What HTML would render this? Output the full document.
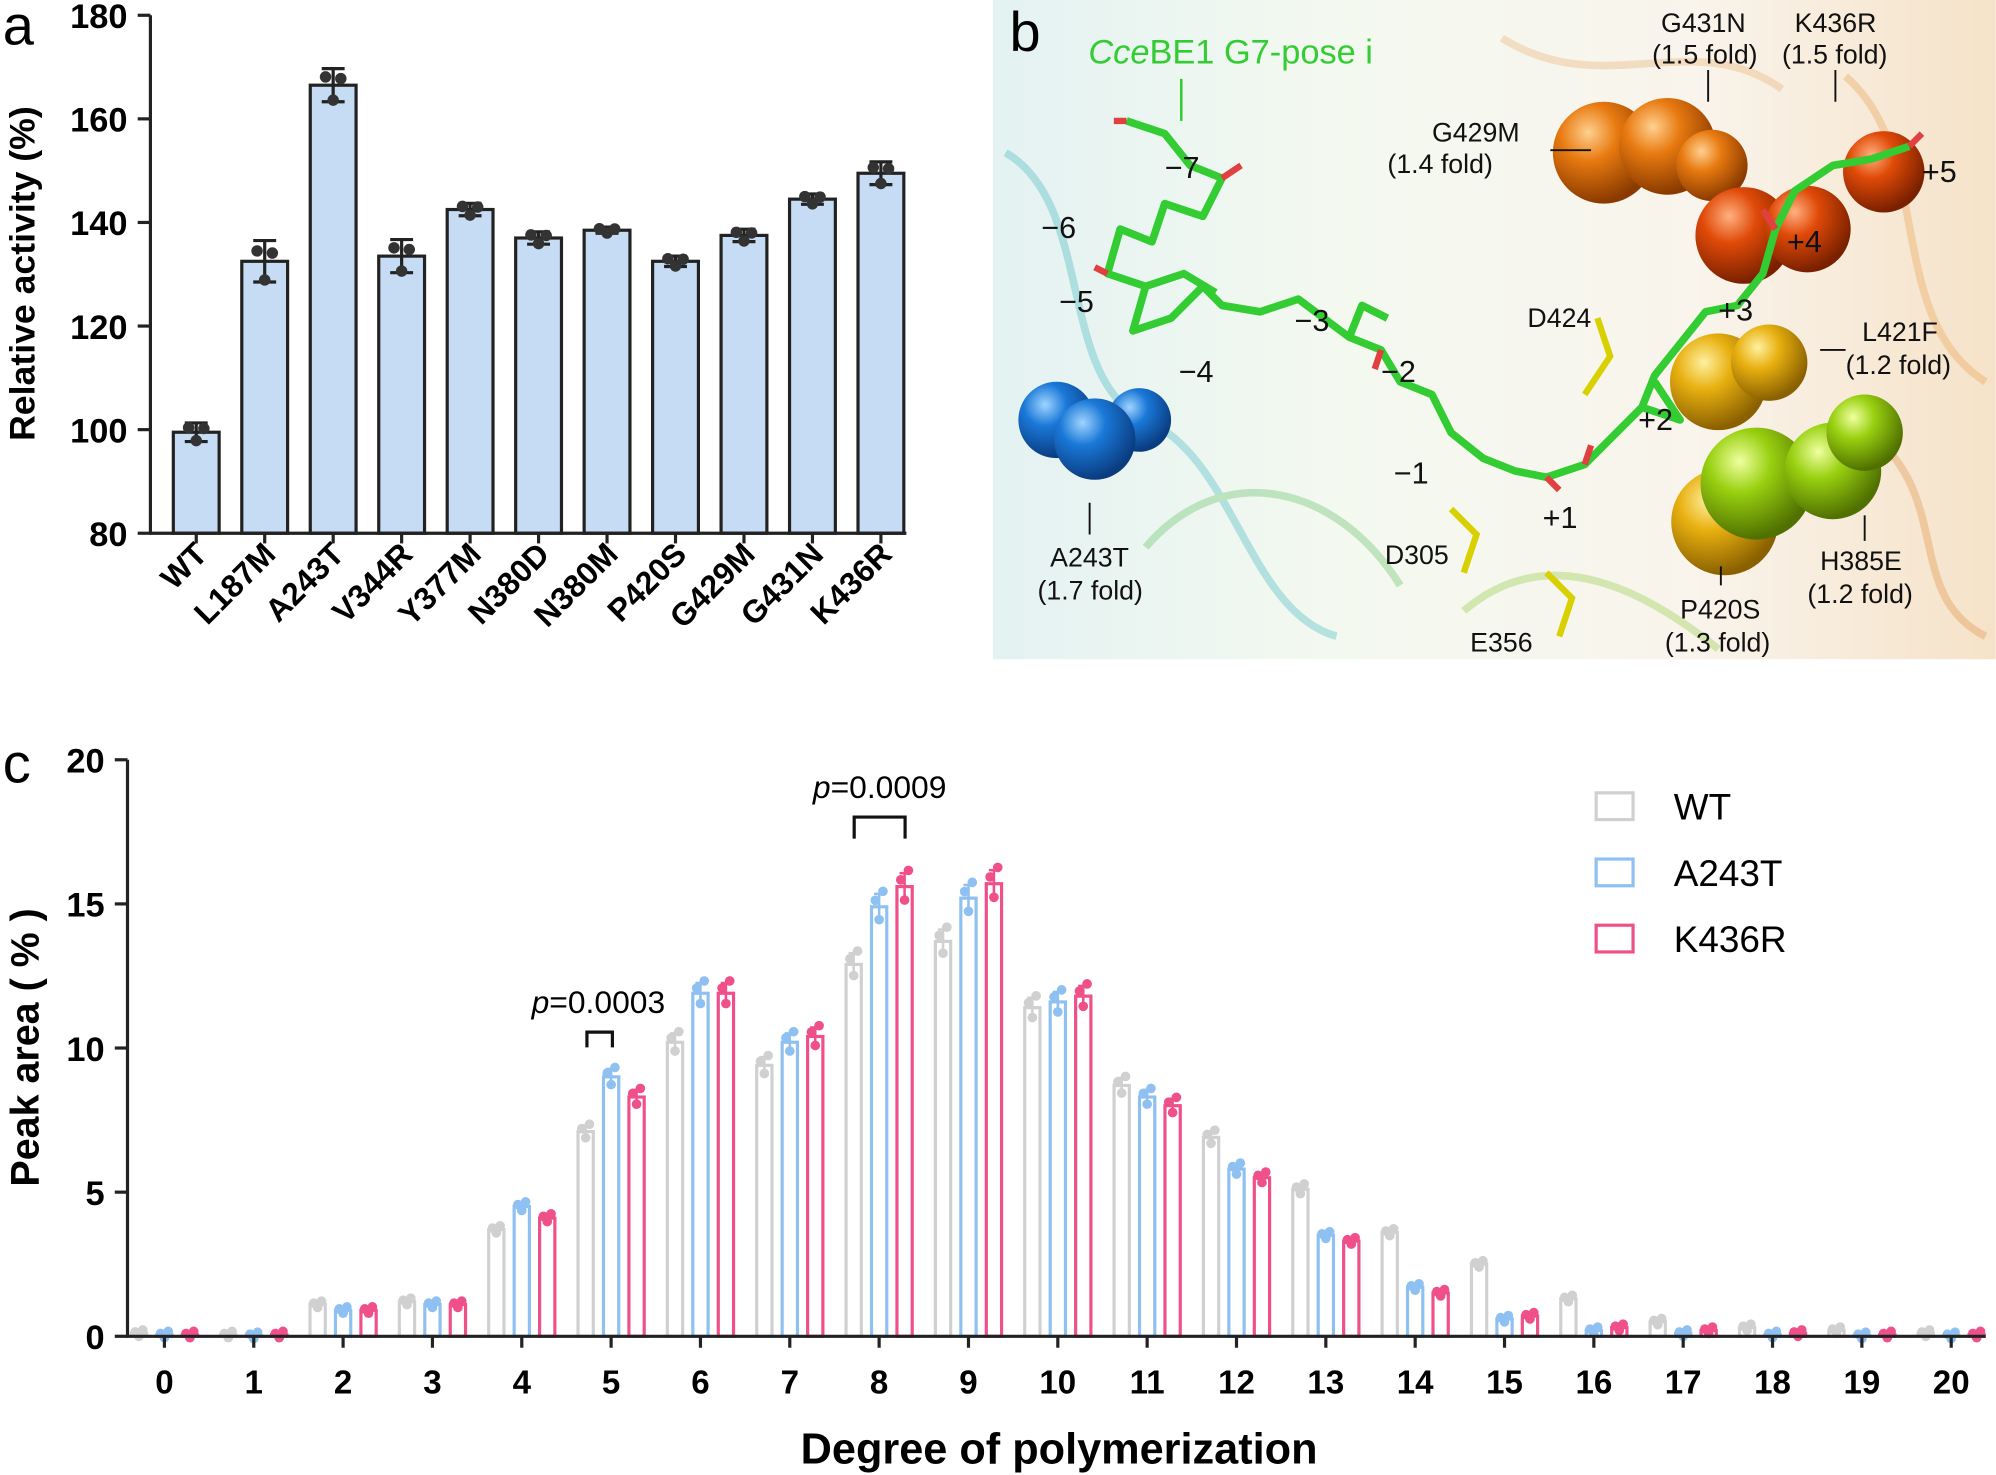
<!DOCTYPE html>
<html><head><meta charset="utf-8"><style>
html,body{margin:0;padding:0;background:#fff;}
svg{display:block;font-family:"Liberation Sans",Arial,sans-serif;}
</style></head><body>
<svg id="s" width="1996" height="1475" viewBox="0 0 1568 1159" xmlns="http://www.w3.org/2000/svg">
<defs>
<radialGradient id="bl" cx="35%" cy="30%" r="70%"><stop offset="0" stop-color="#9fd4ff"/><stop offset="0.4" stop-color="#1a78d8"/><stop offset="1" stop-color="#0a3c80"/></radialGradient>
<radialGradient id="or" cx="35%" cy="30%" r="70%"><stop offset="0" stop-color="#ffd090"/><stop offset="0.4" stop-color="#e87a10"/><stop offset="1" stop-color="#8a3a00"/></radialGradient>
<radialGradient id="ro" cx="35%" cy="30%" r="70%"><stop offset="0" stop-color="#ffb080"/><stop offset="0.4" stop-color="#e04a08"/><stop offset="1" stop-color="#7a2000"/></radialGradient>
<radialGradient id="ye" cx="35%" cy="30%" r="70%"><stop offset="0" stop-color="#fff0a0"/><stop offset="0.4" stop-color="#e8b010"/><stop offset="1" stop-color="#8a6000"/></radialGradient>
<radialGradient id="gr" cx="35%" cy="30%" r="70%"><stop offset="0" stop-color="#f0ffa0"/><stop offset="0.4" stop-color="#98d010"/><stop offset="1" stop-color="#507000"/></radialGradient>
<linearGradient id="bg" x1="0" x2="1" y1="0" y2="0"><stop offset="0" stop-color="#e4f2f2"/><stop offset="0.35" stop-color="#f4f9f0"/><stop offset="0.7" stop-color="#f9f4ec"/><stop offset="1" stop-color="#f6e2c8"/></linearGradient>
</defs>
<g id="g"></g>
<rect x="780" y="0" width="788" height="518" fill="url(#bg)"/>
<g fill="none" stroke-width="6" opacity="0.35">
<path d="M790 120 C860 160 830 300 900 330 S980 480 1050 500" stroke="#40b8c0"/>
<path d="M900 430 C960 360 1050 380 1100 460" stroke="#60c060"/>
<path d="M1150 480 C1220 420 1300 470 1350 510" stroke="#90c840"/>
<path d="M1450 60 C1520 120 1480 250 1560 300" stroke="#e8a050"/>
<path d="M1180 30 C1260 80 1330 20 1400 70" stroke="#e8b070"/>
<path d="M1480 350 C1530 400 1500 470 1560 500" stroke="#e09040"/>
</g>
<g>
<circle cx="830" cy="330" r="30" fill="url(#bl)"/><circle cx="895" cy="330" r="25" fill="url(#bl)"/><circle cx="860" cy="345" r="32" fill="url(#bl)"/>
<circle cx="1260" cy="120" r="40" fill="url(#or)"/><circle cx="1310" cy="115" r="38" fill="url(#or)"/><circle cx="1345" cy="130" r="28" fill="url(#or)"/>
<circle cx="1370" cy="185" r="38" fill="url(#ro)"/><circle cx="1420" cy="180" r="34" fill="url(#ro)"/><circle cx="1480" cy="135" r="32" fill="url(#ro)"/>
<circle cx="1350" cy="300" r="38" fill="url(#ye)"/><circle cx="1390" cy="285" r="30" fill="url(#ye)"/><circle cx="1355" cy="410" r="42" fill="url(#ye)"/>
<circle cx="1380" cy="380" r="44" fill="url(#gr)"/><circle cx="1440" cy="370" r="38" fill="url(#gr)"/><circle cx="1465" cy="340" r="30" fill="url(#gr)"/>
</g>
<g fill="none" stroke="#33cc33" stroke-width="6" stroke-linejoin="round">
<path d="M885 95 L915 105 L935 130 L960 140 L945 170 L915 160 L905 190 L880 180 L870 215 L900 225 L890 260 L920 250 L945 225 L960 240 L990 245 L1020 235 L1040 250 L1060 265 L1085 275 L1100 300 L1125 310 L1140 340 L1165 360 L1190 370 L1215 375 L1245 365 L1265 345 L1290 320 L1300 295 L1320 270 L1340 245 L1365 240 L1385 215 L1395 180 L1410 150 L1440 130 L1470 125 L1500 115"/>
<path d="M900 225 L930 215 L955 230 M1060 265 L1070 240 L1090 250 M1290 320 L1320 330 L1300 300"/>
</g>
<g fill="none" stroke="#e04040" stroke-width="5">
<path d="M875 95 L885 95 M960 140 L975 130 M870 215 L860 210 M1085 275 L1080 290 M1215 375 L1225 385 M1245 365 L1250 350 M1395 180 L1385 165 M1500 115 L1510 105"/>
</g>
<g stroke="#d8d000" stroke-width="5" fill="none"><path d="M1140 400 L1160 420 L1150 450 M1255 250 L1265 280 L1245 310 M1215 450 L1235 470 L1225 500"/></g>
<g font-size="21" fill="#111">
<text x="1125" y="111">G429M</text><text x="1090" y="136">(1.4 fold)</text>
<text x="1305" y="25">G431N</text><text x="1298" y="50">(1.5 fold)</text>
<text x="1410" y="25">K436R</text><text x="1400" y="50">(1.5 fold)</text>
<text x="1463" y="268">L421F</text><text x="1450" y="294">(1.2 fold)</text>
<text x="1430" y="448">H385E</text><text x="1420" y="474">(1.2 fold)</text>
<text x="1320" y="486">P420S</text><text x="1308" y="512">(1.3 fold)</text>
<text x="825" y="445">A243T</text><text x="815" y="471">(1.7 fold)</text>
<text x="1200" y="257">D424</text><text x="1088" y="443">D305</text><text x="1155" y="512">E356</text>
</g>
<g font-size="24" fill="#111">
<text x="915" y="140">−7</text><text x="818" y="187">−6</text><text x="832" y="245">−5</text><text x="926" y="300">−4</text>
<text x="1017" y="260">−3</text><text x="1085" y="300">−2</text><text x="1095" y="380">−1</text><text x="1212" y="415">+1</text>
<text x="1287" y="338">+2</text><text x="1350" y="252">+3</text><text x="1404" y="198">+4</text><text x="1510" y="143">+5</text>
</g>
<text x="855" y="50" font-size="27" fill="#33cc33"><tspan font-style="italic">Cce</tspan>BE1 G7-pose i</text>
<g stroke="#111" stroke-width="1.5"><path d="M1218 118 L1250 118 M1342 55 V80 M1442 55 V80 M1430 275 H1450 M1465 405 V425 M1352 445 V460 M856 395 V420"/></g>
<path d="M928 62 V95" stroke="#33cc33" stroke-width="2"/>
<text x="793" y="40" font-size="44" fill="#000">b</text>
</svg>
<script>
const g=document.getElementById('g');let h='';
function T(x,y,s,o){h+=`<text x="${x}" y="${y}" ${o||''}>${s}</text>`;}
h+='<text x="2" y="35" font-size="44">a</text>';
const ya=v=>419-(v-80)*4.07;
const na=["WT","L187M","A243T","V344R","Y377M","N380D","N380M","P420S","G429M","G431N","K436R"];
const va=[99.5,132.5,166.5,133.5,142.5,137,138.5,132.5,137.5,144.5,149.5];
const ea=[1.8,4,3.2,3.2,1.2,1.2,0.6,1,1.2,1,2.2];
na.forEach((n,i)=>{const x=154+i*53.8;const y=ya(va[i]);
h+=`<rect x="${x-18}" y="${y}" width="36" height="${419-y}" fill="#c5dcf4" stroke="#222" stroke-width="2.5"/>`;
h+=`<path d="M${x} ${ya(va[i]-ea[i])}V${ya(va[i]+ea[i])}M${x-9} ${ya(va[i]+ea[i])}H${x+9}M${x-9} ${ya(va[i]-ea[i])}H${x+9}" stroke="#222" stroke-width="2.5"/>`;
[[-6,0.5],[0,-0.9],[6,0.4]].forEach(d=>h+=`<circle cx="${x+d[0]}" cy="${ya(va[i]+d[1]*ea[i])}" r="4.5" fill="#333"/>`);
h+=`<path d="M${x} 419v8" stroke="#222" stroke-width="2.5"/>`;
T(x+10,437,n,`font-size="25" font-weight="bold" text-anchor="end" transform="rotate(-45 ${x+10} 437)"`);
});
h+='<path d="M118 12V419H712" fill="none" stroke="#222" stroke-width="2.5"/>';
for(let v=80;v<=180;v+=20){h+=`<path d="M108 ${ya(v)}H118" stroke="#222" stroke-width="2.5"/>`;T(100,ya(v)+10,v,'font-size="27" font-weight="bold" text-anchor="end"');}
T(27,215,'Relative activity (%)','font-size="28" font-weight="bold" text-anchor="middle" transform="rotate(-90 27 215)"');
h+='<text x="2" y="615" font-size="44">c</text>';
const yc=v=>1050-v*22.65;
const W=[0.1,0.05,1.1,1.2,3.7,7.1,10.2,9.4,12.9,13.7,11.4,8.7,6.9,5.1,3.6,2.5,1.3,0.5,0.3,0.2,0.1];
const A=[0.05,0.02,0.9,1.1,4.5,9.0,11.9,10.2,14.9,15.2,11.6,8.3,5.8,3.5,1.7,0.6,0.2,0.1,0.05,0.02,0.02];
const K=[0.05,0.05,0.9,1.1,4.1,8.3,11.9,10.4,15.6,15.7,11.8,8.0,5.5,3.3,1.5,0.7,0.3,0.2,0.1,0.05,0.05];
const S=[[W,-20,"#d0d0d0"],[A,0,"#8fc0f2"],[K,20,"#f0508a"]];
for(let i=0;i<=20;i++){const x=129+i*70.2;
S.forEach(s=>{const v=s[0][i],bx=x+s[1],y=yc(v);
h+=`<rect x="${bx-6}" y="${y}" width="12" height="${1050-y}" fill="#fff" stroke="${s[2]}" stroke-width="2.5"/>`;
const e=Math.max(0.1,v*0.03);
h+=`<path d="M${bx} ${yc(v+e)}V${yc(v-e)}M${bx-4} ${yc(v+e)}H${bx+4}" stroke="${s[2]}" stroke-width="2"/>`;
[[-3,0.5],[0,-1],[3,1.2]].forEach(d=>h+=`<circle cx="${bx+d[0]}" cy="${yc(v+d[1]*e)}" r="3.8" fill="${s[2]}"/>`);
});
h+=`<path d="M${x} 1050v9" stroke="#222" stroke-width="2.5"/>`;
T(x,1095,i,'font-size="26" font-weight="bold" text-anchor="middle"');}
h+='<path d="M100 597V1050H1560" fill="none" stroke="#222" stroke-width="2.5"/>';
for(let v=0;v<=20;v+=5){h+=`<path d="M90 ${yc(v)}H100" stroke="#222" stroke-width="2.5"/>`;T(82,yc(v)+10,v,'font-size="27" font-weight="bold" text-anchor="end"');}
T(30,823,'Peak area ( % )','font-size="31" font-weight="bold" text-anchor="middle" transform="rotate(-90 30 823)"');
T(832,1150,'Degree of polymerization','font-size="34" font-weight="bold" text-anchor="middle"');
h+='<path d="M461 823V811H481V823M671 659V642H711V659" fill="none" stroke="#111" stroke-width="2.5"/>';
T(470,796,'<tspan font-style="italic">p</tspan>=0.0003','font-size="25" text-anchor="middle"');
T(691,627,'<tspan font-style="italic">p</tspan>=0.0009','font-size="25" text-anchor="middle"');
[["WT","#d0d0d0",623],["A243T","#8fc0f2",675],["K436R","#f0508a",727]].forEach(l=>{
h+=`<rect x="1254" y="${l[2]}" width="29" height="21" fill="#fff" stroke="${l[1]}" stroke-width="2.5"/>`;T(1315,l[2]+21,l[0],'font-size="29"');});
g.innerHTML=h;
</script>
</body></html>
